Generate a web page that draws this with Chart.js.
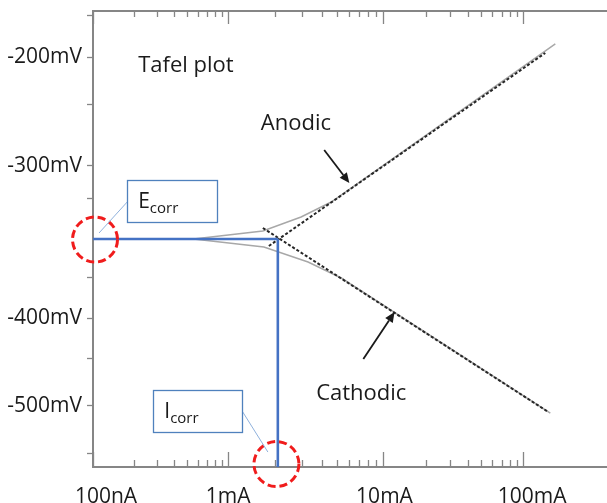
<!DOCTYPE html>
<html><head><meta charset="utf-8">
<script src="https://cdn.jsdelivr.net/npm/chart.js@4/dist/chart.umd.min.js"></script>
<style>html,body{margin:0;padding:0;background:#fff}canvas{display:block}</style>
</head><body>
<canvas id="c" width="607" height="503"></canvas>
<script>
// ---------- tick labels / axes ----------
const xTickValues = [0.1, 1, 10, 100];                      // mA
const xTickLabels = ['100nA', '1mA', '10mA', '100mA'];
const xMinorTickValues = [0.2,0.3,0.4,0.5,0.6,0.7,0.8,0.9, 2,3,4,5,6,7,8,9, 20,30,40,50,60,70,80,90];
const yTickValues = [-200, -300, -400, -500];               // mV
const yTickLabels = ['-200mV', '-300mV', '-400mV', '-500mV'];
const yMinorTickValues = [-161.9, -243.4, -321.8, -373.1, -446.2, -554.5];
const xRange = [0.1, 398];
const yRange = [-570.1, -157.3];
// the drawing's axes are not uniform: distance of each labelled tick along its axis
const xKnotPositions = [0, 134.4, 289, 428];     // from left end of axis
const yKnotPositions = [46.3, 154.7, 307.3, 394.7]; // from top end of axis
const xLabelShift = [13, 0, 1, 9];               // label nudges as drawn in the original

// ---------- data ----------
const anodicMeasuredI = [0.1, 0.555, 1.674, 2.949, 4.61, 7.21, 169.8];
const anodicMeasuredE = [-348, -348, -342.8, -333.6, -323.8, -310.0, -187.7];
const cathodicMeasuredI = [0.1, 0.555, 1.70, 3.27, 5.35, 156.4];
const cathodicMeasuredE = [-348, -348, -353.3, -363.1, -373.6, -508.4];
const anodicTafelI = [1.83, 143.9];
const anodicTafelE = [-352.6, -196.0];
const cathodicTafelI = [1.674, 151.4];
const cathodicTafelE = [-340.8, -507.2];
const ecorrMV = -348;
const icorrMA = 2.09;
const markerI = [0.1035, 2.047];
const markerE = [-348.4, -566.7];

// ---------- annotations (anchored in data units) ----------
const noteTexts = ['Tafel plot', 'Anodic', 'Cathodic'];
const noteI = [0.216, 1.625, 3.687];
const noteE = [-213.6, -267.1, -493.5];
const arrowFromI = [4.155, 7.42], arrowFromE = [-285.5, -446.6];
const arrowToI = [6.03, 12.0], arrowToE = [-311.3, -395.9];
const calloutMain = ['E', 'I'], calloutSub = ['corr', 'corr'];
const calloutI1 = [0.179, 0.2795], calloutE1 = [-309.4, -482.0];
const calloutI2 = [0.837, 1.243], calloutE2 = [-336.9, -530.1];
const leaderFromI = [0.179, 1.243], leaderFromE = [-323.8, -507.2];
const leaderToI = [0.1108, 1.804], leaderToE = [-344.1, -553.0];

const pts = (xs, ys) => xs.map((x, i) => ({x, y: ys[i]}));

// ---------- piecewise scale ----------
function interp(t, ks, ps) {
  const idx = ks.map((_, i) => i).sort((a, b) => ks[a] - ks[b]);
  const K = idx.map(i => ks[i]), P = idx.map(i => ps[i]);
  let s = 0;
  while (s < K.length - 2 && t > K[s + 1]) s++;
  return P[s] + (t - K[s]) * (P[s + 1] - P[s]) / (K[s + 1] - K[s]);
}
function warpValue(v, o) {
  const f = o.logarithmic ? Math.log10 : (t => t);
  const u = interp(f(v), o.knotValues.map(f), o.knotPositions);
  return o.negate ? -u : u;
}
class WarpScale extends Chart.LinearScale {
  determineDataLimits() {
    const o = this.options;
    this.min = warpValue(o.rangeMin, o);
    this.max = warpValue(o.rangeMax, o);
  }
  buildTicks() {
    this.start = this.min; this.end = this.max;
    return (this.options.tickValues || []).map(v => ({value: v}));
  }
  getPixelForValue(v) {
    if (v === null || v === undefined) return NaN;
    return super.getPixelForValue(warpValue(v, this.options));
  }
  getPixelForTick(i) {
    const p = super.getPixelForTick(i);
    const sh = this.options.labelShift;
    return sh ? p + (sh[i] || 0) : p;
  }
}
WarpScale.id = 'warp';
WarpScale.defaults = {};
Chart.register(WarpScale);

const axisColor = '#868686';
const textColor = '#1a1a1a';
Chart.defaults.font.family = '"Open Sans", sans-serif';

const xLabel = v => { const i = xTickValues.indexOf(v); return i >= 0 ? xTickLabels[i] : ''; };
const yLabel = v => { const i = yTickValues.indexOf(v); return i >= 0 ? yTickLabels[i] : ''; };

// inside tick marks on bottom and top axes
const insideTicks = {
  id: 'insideTicks',
  beforeDatasetsDraw(chart) {
    const ctx = chart.ctx, {top, bottom} = chart.chartArea;
    const sb = chart.scales.x, st = chart.scales.x2;
    ctx.save();
    ctx.strokeStyle = axisColor; ctx.lineWidth = 1.3;
    const all = xTickValues.map(v => [v, true]).concat(xMinorTickValues.map(v => [v, false]));
    for (const [v, major] of all) {
      const pb = Math.round(sb.getPixelForValue(v)) + 0.5;
      const pt = Math.round(st.getPixelForValue(v)) + 0.5;
      ctx.beginPath();
      ctx.moveTo(pb, bottom); ctx.lineTo(pb, bottom - (major ? 15 : 7));
      ctx.moveTo(pt, top); ctx.lineTo(pt, top + (major ? 13 : 6));
      ctx.stroke();
    }
    ctx.restore();
  }
};

// dashed outline for ring markers
const ringDash = {
  id: 'ringDash',
  beforeDatasetDraw(chart, args) {
    const ds = chart.data.datasets[args.index];
    if (ds.ringDash) { chart.ctx.save(); chart.ctx.setLineDash(ds.ringDash); }
  },
  afterDatasetDraw(chart, args) {
    const ds = chart.data.datasets[args.index];
    if (ds.ringDash) chart.ctx.restore();
  }
};

// text notes, arrows, callout boxes
const notes = {
  id: 'notes',
  afterDatasetsDraw(chart) {
    const ctx = chart.ctx, sx = chart.scales.x, sy = chart.scales.y;
    const X = v => sx.getPixelForValue(v), Y = v => sy.getPixelForValue(v);
    ctx.save();
    ctx.fillStyle = textColor;
    ctx.textBaseline = 'alphabetic'; ctx.textAlign = 'left';
    ctx.font = '22px "Open Sans"';
    noteTexts.forEach((t, i) => ctx.fillText(t, X(noteI[i]), Y(noteE[i])));
    // arrows
    ctx.strokeStyle = textColor; ctx.lineWidth = 1.8;
    arrowFromI.forEach((_, i) => {
      const x1 = X(arrowFromI[i]), y1 = Y(arrowFromE[i]), x2 = X(arrowToI[i]), y2 = Y(arrowToE[i]);
      const a = Math.atan2(y2 - y1, x2 - x1), L = 10, W = 4.5;
      const bx = x2 - L * Math.cos(a), by = y2 - L * Math.sin(a);
      ctx.beginPath(); ctx.moveTo(x1, y1); ctx.lineTo(bx, by); ctx.stroke();
      ctx.beginPath(); ctx.moveTo(x2, y2);
      ctx.lineTo(bx - W * Math.sin(a), by + W * Math.cos(a));
      ctx.lineTo(bx + W * Math.sin(a), by - W * Math.cos(a));
      ctx.closePath(); ctx.fill();
    });
    // callouts
    calloutMain.forEach((m, i) => {
      ctx.strokeStyle = '#8fb1dc'; ctx.lineWidth = 1;
      ctx.beginPath(); ctx.moveTo(X(leaderFromI[i]), Y(leaderFromE[i])); ctx.lineTo(X(leaderToI[i]), Y(leaderToE[i])); ctx.stroke();
      const bx = X(calloutI1[i]), by = Y(calloutE1[i]);
      const bw = X(calloutI2[i]) - bx, bh = Y(calloutE2[i]) - by;
      ctx.fillStyle = '#ffffff';
      ctx.fillRect(bx, by, bw, bh);
      ctx.strokeStyle = '#4f81bd'; ctx.lineWidth = 1.3;
      ctx.strokeRect(Math.round(bx) + 0.5, Math.round(by) + 0.5, Math.round(bw), Math.round(bh));
      ctx.fillStyle = textColor;
      ctx.font = '21px "Open Sans"';
      const tx = bx + 11, ty = by + 28;
      ctx.fillText(m, tx, ty);
      const mw = ctx.measureText(m).width;
      ctx.font = '15px "Open Sans"';
      ctx.fillText(calloutSub[i], tx + mw, ty + 5);
    });
    ctx.restore();
  }
};

const grayLine = {showLine: true, pointRadius: 0, borderColor: '#a8a8a8', borderWidth: 1.5, fill: false, order: 4};
const tafelLine = {showLine: true, pointRadius: 0, borderColor: '#262626', borderWidth: 2, borderDash: [3, 2], fill: false, order: 3};
const blueLine = {showLine: true, pointRadius: 0, borderColor: '#4472c4', borderWidth: 2.6, fill: false, order: 2};

new Chart(document.getElementById('c'), {
  type: 'scatter',
  data: {
    datasets: [
      Object.assign({label: 'Anodic (measured)', data: pts(anodicMeasuredI, anodicMeasuredE)}, grayLine),
      Object.assign({label: 'Cathodic (measured)', data: pts(cathodicMeasuredI, cathodicMeasuredE)}, grayLine),
      Object.assign({label: 'Anodic Tafel', data: pts(anodicTafelI, anodicTafelE)}, tafelLine),
      Object.assign({label: 'Cathodic Tafel', data: pts(cathodicTafelI, cathodicTafelE)}, tafelLine),
      Object.assign({label: 'Ecorr', data: [{x: xRange[0], y: ecorrMV}, {x: icorrMA, y: ecorrMV}]}, blueLine),
      Object.assign({label: 'Icorr', data: [{x: icorrMA, y: ecorrMV}, {x: icorrMA, y: yRange[0]}]}, blueLine),
      {label: 'markers', data: pts(markerI, markerE), showLine: false, pointStyle: 'circle',
       pointRadius: 22.5, pointHoverRadius: 22.5, pointBorderColor: '#f01c1c', pointBorderWidth: 3,
       pointBackgroundColor: 'rgba(0,0,0,0)', clip: false, ringDash: [8, 4], order: 1}
    ]
  },
  options: {
    responsive: false,
    animation: false,
    devicePixelRatio: 1,
    layout: {padding: 0, autoPadding: false},
    plugins: {legend: {display: false}, tooltip: {enabled: false}},
    scales: {
      x: {
        type: 'warp', position: 'bottom', logarithmic: true,
        knotValues: xTickValues, knotPositions: xKnotPositions,
        rangeMin: xRange[0], rangeMax: xRange[1], tickValues: xTickValues, labelShift: xLabelShift,
        ticks: {callback: xLabel, autoSkip: false, maxRotation: 0, minRotation: 0, padding: 9, color: textColor, font: {size: 21}},
        grid: {display: false},
        border: {display: true, color: axisColor, width: 2},
        afterFit: s => { s.height = 36; s.paddingLeft = 0; s.paddingRight = 0; }
      },
      x2: {
        type: 'warp', position: 'top', logarithmic: true,
        knotValues: xTickValues, knotPositions: xKnotPositions,
        rangeMin: xRange[0], rangeMax: xRange[1], tickValues: xTickValues,
        ticks: {display: false},
        grid: {display: false},
        border: {display: true, color: axisColor, width: 2},
        afterFit: s => { s.height = 11; s.paddingLeft = 0; s.paddingRight = 0; }
      },
      y: {
        type: 'warp', position: 'left', negate: true,
        knotValues: yTickValues, knotPositions: yKnotPositions,
        rangeMin: yRange[0], rangeMax: yRange[1],
        tickValues: yTickValues.concat(yMinorTickValues).sort((a, b) => a - b),
        ticks: {callback: yLabel, autoSkip: false, padding: 5, color: textColor, font: {size: 21}},
        grid: {display: true, drawOnChartArea: false, drawTicks: true, tickLength: 6, tickColor: axisColor, tickWidth: 1.3, color: axisColor},
        border: {display: true, color: axisColor, width: 2},
        afterFit: s => { s.width = 93; s.paddingTop = 0; s.paddingBottom = 0; }
      }
    }
  },
  plugins: [insideTicks, ringDash, notes]
});
</script>
</body></html>
